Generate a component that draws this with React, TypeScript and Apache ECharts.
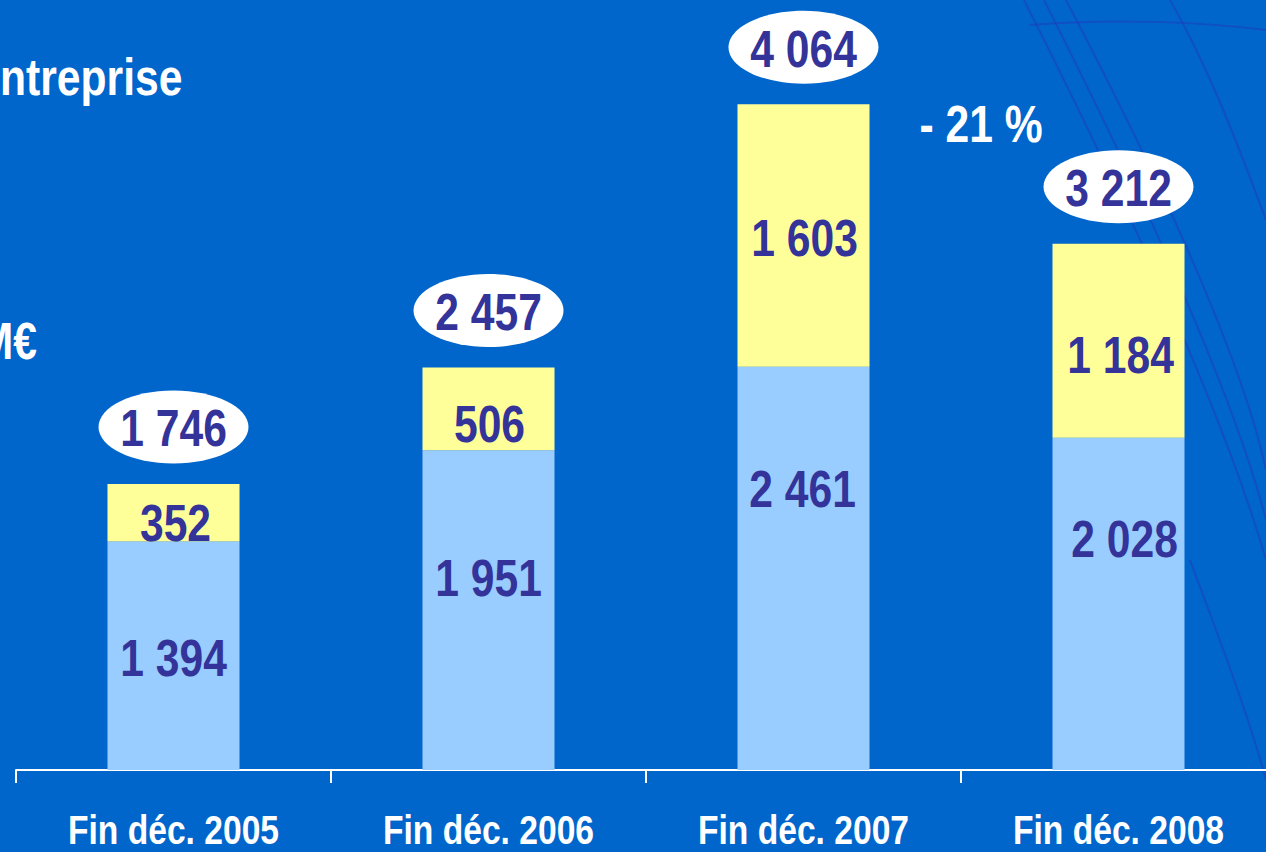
import React, { useEffect, useRef } from "react";
import * as echarts from "echarts";

const categories = ["Fin déc. 2005", "Fin déc. 2006", "Fin déc. 2007", "Fin déc. 2008"];
const baseValues = [1394, 1951, 2461, 2028];
const topValues = [352, 506, 1603, 1184];
const totals = [1746, 2457, 4064, 3212];
const changeLabel = "- 21 %";
const titleFragment = "ntreprise";
const unitLabel = "M€";

// label placement tweaks (layout only, pixels)
const baseLabelOffsets = [[0, 2.5], [0, -32], [-1, -79], [6, -64.5]];
const topLabelOffsets = [[2, 10.5], [1, 15], [1, 2], [2, 14]];

const FONT = "'Liberation Sans', Arial, sans-serif";
const SQUEEZE = 0.82; // Arial Narrow look
const BG = "#0066CC";
const INK = "#333399";

const fmt = (v: number) => String(v).replace(/\B(?=(\d{3})+(?!\d))/g, " ");

export default function App() {
  const ref = useRef<HTMLDivElement>(null);
  useEffect(() => {
    if (!ref.current) return;
    const chart = echarts.init(ref.current, null, { renderer: "svg" });

    const txt = (text: string, x: number, y: number, size: number, fill: string) => ({
      type: "text",
      x,
      y,
      scaleX: SQUEEZE,
      style: {
        text,
        fill,
        font: `bold ${size}px ${FONT}`,
        textAlign: "center",
        textVerticalAlign: "middle",
      },
    });

    const rows = categories.map((_, i) => [i, baseValues[i], topValues[i], totals[i]]);

    const deco = "rgba(30,60,190,0.55)";
    const curve = (x1: number, y1: number, cpx1: number, cpy1: number, cpx2: number, cpy2: number, x2: number, y2: number) => ({
      type: "bezierCurve",
      shape: { x1, y1, cpx1, cpy1, cpx2, cpy2, x2, y2 },
      style: { stroke: deco, lineWidth: 2, fill: null },
    });

    chart.setOption({
      animation: false,
      backgroundColor: BG,
      grid: { left: 16, width: 1260, top: 0, bottom: 82, containLabel: false },
      xAxis: {
        type: "category",
        data: categories,
        boundaryGap: true,
        axisLine: { show: true, lineStyle: { color: "#FFFFFF", width: 2 } },
        axisTick: { show: true, interval: 0, length: 13, lineStyle: { color: "#FFFFFF", width: 2 } },
        axisLabel: { show: false, interval: 0 },
      },
      yAxis: {
        type: "value",
        min: 0,
        max: 4700,
        show: false,
        splitLine: { show: false },
      },
      series: [
        {
          type: "bar",
          stack: "total",
          barWidth: 132,
          itemStyle: { color: "#99CCFF" },
          data: baseValues,
        },
        {
          type: "bar",
          stack: "total",
          barWidth: 132,
          itemStyle: { color: "#FFFF99" },
          data: topValues,
        },
        {
          type: "custom",
          coordinateSystem: "cartesian2d",
          z: 10,
          encode: { x: 0, y: 3 },
          data: rows,
          renderItem: (params: any, api: any) => {
            const i = api.value(0);
            const b = api.value(1);
            const t = api.value(2);
            const tot = api.value(3);
            const pBase = api.coord([i, b / 2]);
            const pTop = api.coord([i, b + t / 2]);
            const pTot = api.coord([i, tot]);
            const pAxis = api.coord([i, 0]);
            const bo = baseLabelOffsets[i];
            const to = topLabelOffsets[i];
            const ey = pTot[1] - 57;
            return {
              type: "group",
              children: [
                txt(fmt(b), pBase[0] + bo[0], pBase[1] + bo[1], 52, INK),
                txt(fmt(t), pTop[0] + to[0], pTop[1] + to[1], 52, INK),
                {
                  type: "ellipse",
                  shape: { cx: pTot[0], cy: ey, rx: 75, ry: 36.5 },
                  style: { fill: "#FFFFFF" },
                },
                txt(fmt(tot), pTot[0], ey + 1.5, 52, INK),
                txt(categories[i], pAxis[0], pAxis[1] + 60, 41, "#FFFFFF"),
              ],
            };
          },
        },
      ],
      graphic: [
        {
          type: "group",
          silent: true,
          z: -10,
          children: [
            curve(1024, 0, 1110, 170, 1220, 400, 1266, 560),
            curve(1044, 0, 1130, 170, 1230, 380, 1266, 520),
            curve(1066, 0, 1150, 160, 1240, 350, 1266, 470),
            curve(1170, 0, 1210, 70, 1240, 150, 1266, 220),
            curve(1030, 25, 1110, 18, 1200, 22, 1266, 30),
            curve(1190, 560, 1220, 640, 1250, 720, 1266, 780),
          ],
        },
        {
          type: "text",
          x: 0,
          y: 77,
          scaleX: SQUEEZE,
          style: {
            text: titleFragment,
            fill: "#FFFFFF",
            font: `bold 52px ${FONT}`,
            textAlign: "left",
            textVerticalAlign: "middle",
          },
        },
        {
          type: "text",
          x: 37,
          y: 341,
          scaleX: SQUEEZE,
          style: {
            text: unitLabel,
            fill: "#FFFFFF",
            font: `bold 52px ${FONT}`,
            textAlign: "right",
            textVerticalAlign: "middle",
          },
        },
        {
          type: "text",
          x: 981,
          y: 124,
          scaleX: SQUEEZE,
          style: {
            text: changeLabel,
            fill: "#FFFFFF",
            font: `bold 52px ${FONT}`,
            textAlign: "center",
            textVerticalAlign: "middle",
          },
        },
      ],
    });
    return () => chart.dispose();
  }, []);
  return (
    <div
      style={{
        position: "fixed",
        left: 0,
        top: 0,
        width: 1266,
        height: 852,
        overflow: "hidden",
        background: BG,
      }}
    >
      <div ref={ref} style={{ width: 1290, height: 852 }} />
    </div>
  );
}
